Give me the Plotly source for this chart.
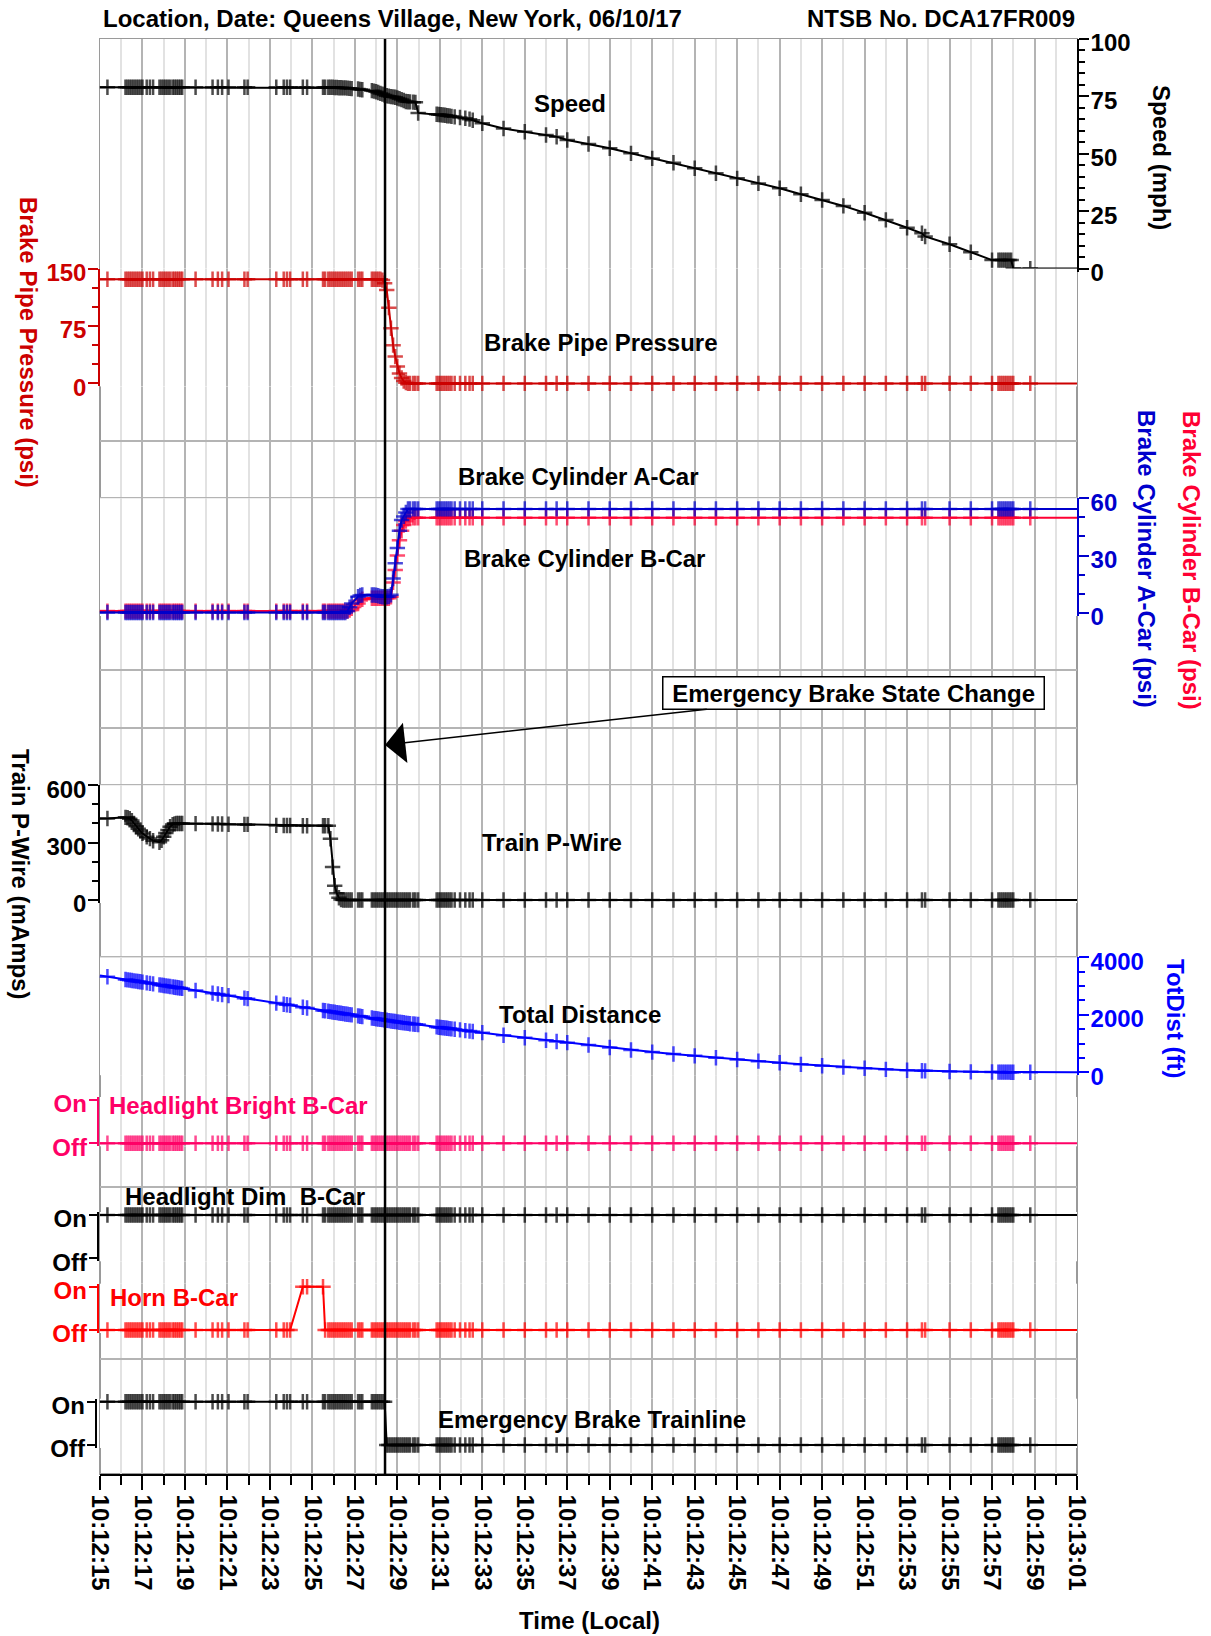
import pandas as pd
import plotly.graph_objects as go

# ---------------- data ----------------
# seconds after 10:12:00 local; first / last entries are the plot edges (line only, no marker)
TIME_S = [
    15.0, 15.35,
    16.2, 16.3, 16.4, 16.5, 16.6, 16.7, 16.8, 16.9, 17.0,
    17.2, 17.35, 17.5,
    17.8, 17.9, 18.0, 18.1, 18.2, 18.3,
    18.42, 18.51, 18.6, 18.69, 18.78, 18.87,
    19.5, 20.3, 20.55, 20.75, 21.05,
    21.8, 21.95, 23.3, 23.65, 23.8, 23.95,
    24.55, 24.75, 25.5, 25.6,
    25.75, 25.85, 25.95, 26.05, 26.15, 26.25, 26.35, 26.45, 26.55,
    26.65, 26.75, 26.85, 27.15, 27.25, 27.35,
    27.8, 27.9, 28.0, 28.1, 28.2, 28.3, 28.4, 28.5, 28.6, 28.7,
    28.8, 28.9, 29.0, 29.1, 29.2, 29.3, 29.4, 29.5, 29.6,
    29.75, 29.85, 29.98,
    30.85, 30.95, 31.05, 31.15, 31.25, 31.35, 31.45, 31.55,
    31.7, 31.95, 32.2, 32.4, 32.55, 33.0,
    34.0, 35.0, 36.0, 36.5, 37.0, 38.0, 39.0, 40.0, 41.0, 42.0,
    43.0, 44.0, 45.0, 46.0, 47.0, 48.0, 49.0, 50.0, 51.0, 52.0, 53.0,
    53.7, 53.85, 55.0, 56.0, 57.0,
    57.3, 57.4, 57.5, 57.6, 57.7, 57.8, 57.9,
    58.0, 58.8, 61.0,
]

SPEED_MPH = [
    79.0, 79.0,
    79.0, 79.0, 79.0, 79.0, 79.0, 79.0, 79.0, 79.0, 79.0,
    79.0, 79.0, 79.0,
    79.0, 79.0, 79.0, 79.0, 79.0, 79.0,
    79.0, 79.0, 79.0, 79.0, 79.0, 79.0,
    79.0, 79.0, 79.0, 79.0, 79.0,
    79.0, 79.0, 79.0, 79.0, 79.0, 79.0,
    79.0, 79.0, 79.0, 79.0,
    79.0, 79.0, 79.0, 78.9, 78.9, 78.8, 78.8, 78.7, 78.7,
    78.6, 78.5, 78.4, 78.2, 78.0, 77.9,
    77.5, 77.3, 77.0, 76.7, 76.3, 76.0, 75.6, 75.3, 75.1, 74.9,
    74.8, 74.6, 74.3, 74.0, 73.6, 73.2, 72.8, 72.7, 72.6,
    72.5, 72.4, 67.8,
    67.2, 67.1, 67.0, 66.9, 66.8, 66.6, 66.5, 66.3,
    66.1, 65.8, 65.5, 65.1, 64.6, 63.3,
    61.0, 59.6, 58.2, 57.4, 56.0, 54.3, 52.4, 50.2, 48.0, 46.1,
    43.7, 41.5, 39.3, 37.1, 35.0, 32.4, 29.9, 27.3, 24.3, 21.2, 17.8,
    15.4, 14.0, 10.6, 7.1, 3.7,
    3.7, 3.7, 3.7, 3.7, 3.7, 3.7, 3.7,
    0.0, 0.0, 0.0,
]

BRAKE_PIPE_PSI = [
    136, 136,
    136, 136, 136, 136, 136, 136, 136, 136, 136,
    136, 136, 136,
    136, 136, 136, 136, 136, 136,
    136, 136, 136, 136, 136, 136,
    136, 136, 136, 136, 136,
    136, 136, 136, 136, 136, 136,
    136, 136, 136, 136,
    136, 136, 136, 136, 136, 136, 136, 136, 136,
    136, 136, 136, 136, 136, 136,
    136, 136, 136, 136, 136, 135, 131, 122, 99, 72,
    50, 35, 22, 13, 7, 3, 1, 0, 0,
    0, 0, 0,
    0, 0, 0, 0, 0, 0, 0, 0,
    0, 0, 0, 0, 0, 0,
    0, 0, 0, 0, 0, 0, 0, 0, 0, 0,
    0, 0, 0, 0, 0, 0, 0, 0, 0, 0, 0,
    0, 0, 0, 0, 0,
    0, 0, 0, 0, 0, 0, 0,
    0, 0, 0,
]

BRAKE_CYL_A_PSI = [
    0.3, 0.3,
    0.3, 0.3, 0.3, 0.3, 0.3, 0.3, 0.3, 0.3, 0.3,
    0.3, 0.3, 0.3,
    0.3, 0.3, 0.3, 0.3, 0.3, 0.3,
    0.3, 0.3, 0.3, 0.3, 0.3, 0.3,
    0.3, 0.3, 0.3, 0.3, 0.3,
    0.3, 0.3, 0.3, 0.3, 0.3, 0.3,
    0.3, 0.3, 0.3, 0.3,
    0.3, 0.3, 0.3, 0.3, 0.3, 0.3, 0.3, 0.3, 0.3,
    1.0, 3.0, 5.0, 8.5, 9.2, 9.4,
    9.4, 9.4, 9.3, 9.0, 8.7, 8.5, 8.5, 8.5, 8.6, 9.5,
    18.0, 26.0, 34.0, 43.0, 48.6, 50.5, 52.5, 54.4, 54.4,
    54.4, 54.4, 54.4,
    54.4, 54.4, 54.4, 54.4, 54.4, 54.4, 54.4, 54.4,
    54.4, 54.4, 54.4, 54.4, 54.4, 54.4,
    54.4, 54.4, 54.4, 54.4, 54.4, 54.4, 54.4, 54.4, 54.4, 54.4,
    54.4, 54.4, 54.4, 54.4, 54.4, 54.4, 54.4, 54.4, 54.4, 54.4, 54.4,
    54.4, 54.4, 54.4, 54.4, 54.4,
    54.4, 54.4, 54.4, 54.4, 54.4, 54.4, 54.4,
    54.4, 54.4, 54.4,
]

BRAKE_CYL_B_PSI = [
    1.0, 1.0,
    1.0, 1.0, 1.0, 1.0, 1.0, 1.0, 1.0, 1.0, 1.0,
    1.0, 1.0, 1.0,
    1.0, 1.0, 1.0, 1.0, 1.0, 1.0,
    1.0, 1.0, 1.0, 1.0, 1.0, 1.0,
    1.0, 1.0, 1.0, 1.0, 1.0,
    1.0, 1.0, 1.0, 1.0, 1.0, 1.0,
    1.0, 1.0, 1.0, 1.0,
    1.0, 1.0, 1.0, 1.0, 1.0, 1.0, 1.0, 1.0, 1.0,
    1.0, 1.5, 2.5, 5.0, 6.5, 7.2,
    7.7, 7.7, 7.7, 7.7, 7.7, 7.7, 7.7, 7.7, 7.7, 8.5,
    16.0, 22.5, 30.0, 38.0, 43.0, 46.0, 48.0, 49.3, 49.8,
    49.8, 49.8, 49.8,
    49.8, 49.8, 49.8, 49.8, 49.8, 49.8, 49.8, 49.8,
    49.8, 49.8, 49.8, 49.8, 49.8, 49.8,
    49.8, 49.8, 49.8, 49.8, 49.8, 49.8, 49.8, 49.8, 49.8, 49.8,
    49.8, 49.8, 49.8, 49.8, 49.8, 49.8, 49.8, 49.8, 49.8, 49.8, 49.8,
    49.8, 49.8, 49.8, 49.8, 49.8,
    49.8, 49.8, 49.8, 49.8, 49.8, 49.8, 49.8,
    49.8, 49.8, 49.8,
]

P_WIRE_MA = [
    426, 426,
    432, 430, 425, 415, 400, 385, 372, 360, 348,
    330, 321, 310,
    302, 312, 330, 350, 366, 383,
    394, 398, 400, 400, 400, 400,
    399, 398, 397, 397, 396,
    395, 395, 390, 389, 389, 389,
    388, 388, 388, 388,
    388, 320, 172, 75, 35, 12, 2, 0, 0,
    0, 0, 0, 0, 0, 0,
    0, 0, 0, 0, 0, 0, 0, 0, 0, 0,
    0, 0, 0, 0, 0, 0, 0, 0, 0,
    0, 0, 0,
    0, 0, 0, 0, 0, 0, 0, 0,
    0, 0, 0, 0, 0, 0,
    0, 0, 0, 0, 0, 0, 0, 0, 0, 0,
    0, 0, 0, 0, 0, 0, 0, 0, 0, 0, 0,
    0, 0, 0, 0, 0,
    0, 0, 0, 0, 0, 0, 0,
    0, 0, 0,
]

TOT_DIST_FT = [
    3369, 3328,
    3230, 3218, 3207, 3195, 3183, 3172, 3160, 3149, 3137,
    3114, 3096, 3079,
    3044, 3033, 3021, 3009, 2998, 2986,
    2972, 2962, 2951, 2941, 2930, 2920,
    2847, 2754, 2725, 2702, 2667,
    2581, 2563, 2407, 2366, 2349, 2331,
    2262, 2239, 2152, 2140,
    2123, 2111, 2100, 2088, 2076, 2065, 2053, 2042, 2030,
    2019, 2007, 1996, 1961, 1950, 1938,
    1887, 1876, 1864, 1853, 1842, 1831, 1819, 1808, 1797, 1786,
    1775, 1764, 1753, 1743, 1732, 1721, 1710, 1700, 1689,
    1680, 1670, 1660,
    1578, 1568, 1558, 1549, 1539, 1529, 1520, 1510,
    1497, 1473, 1450, 1432, 1418, 1378,
    1290, 1202, 1115, 1072, 1030, 948, 860, 775, 700, 635,
    570, 505, 445, 385, 330, 274, 225, 177, 139, 100, 67,
    50, 47, 26, 13, 5,
    3, 3, 2, 2, 1, 1, 0,
    0, 0, 0,
]

# discrete signals: 1 = On, 0 = Off
HEADLIGHT_BRIGHT_B = [
    0, 0,
    0, 0, 0, 0, 0, 0, 0, 0, 0,
    0, 0, 0,
    0, 0, 0, 0, 0, 0,
    0, 0, 0, 0, 0, 0,
    0, 0, 0, 0, 0,
    0, 0, 0, 0, 0, 0,
    0, 0, 0, 0,
    0, 0, 0, 0, 0, 0, 0, 0, 0,
    0, 0, 0, 0, 0, 0,
    0, 0, 0, 0, 0, 0, 0, 0, 0, 0,
    0, 0, 0, 0, 0, 0, 0, 0, 0,
    0, 0, 0,
    0, 0, 0, 0, 0, 0, 0, 0,
    0, 0, 0, 0, 0, 0,
    0, 0, 0, 0, 0, 0, 0, 0, 0, 0,
    0, 0, 0, 0, 0, 0, 0, 0, 0, 0, 0,
    0, 0, 0, 0, 0,
    0, 0, 0, 0, 0, 0, 0,
    0, 0, 0,
]

HEADLIGHT_DIM_B = [
    1, 1,
    1, 1, 1, 1, 1, 1, 1, 1, 1,
    1, 1, 1,
    1, 1, 1, 1, 1, 1,
    1, 1, 1, 1, 1, 1,
    1, 1, 1, 1, 1,
    1, 1, 1, 1, 1, 1,
    1, 1, 1, 1,
    1, 1, 1, 1, 1, 1, 1, 1, 1,
    1, 1, 1, 1, 1, 1,
    1, 1, 1, 1, 1, 1, 1, 1, 1, 1,
    1, 1, 1, 1, 1, 1, 1, 1, 1,
    1, 1, 1,
    1, 1, 1, 1, 1, 1, 1, 1,
    1, 1, 1, 1, 1, 1,
    1, 1, 1, 1, 1, 1, 1, 1, 1, 1,
    1, 1, 1, 1, 1, 1, 1, 1, 1, 1, 1,
    1, 1, 1, 1, 1,
    1, 1, 1, 1, 1, 1, 1,
    1, 1, 1,
]

HORN_B = [
    0, 0,
    0, 0, 0, 0, 0, 0, 0, 0, 0,
    0, 0, 0,
    0, 0, 0, 0, 0, 0,
    0, 0, 0, 0, 0, 0,
    0, 0, 0, 0, 0,
    0, 0, 0, 0, 0, 0,
    1, 1, 1, 0,
    0, 0, 0, 0, 0, 0, 0, 0, 0,
    0, 0, 0, 0, 0, 0,
    0, 0, 0, 0, 0, 0, 0, 0, 0, 0,
    0, 0, 0, 0, 0, 0, 0, 0, 0,
    0, 0, 0,
    0, 0, 0, 0, 0, 0, 0, 0,
    0, 0, 0, 0, 0, 0,
    0, 0, 0, 0, 0, 0, 0, 0, 0, 0,
    0, 0, 0, 0, 0, 0, 0, 0, 0, 0, 0,
    0, 0, 0, 0, 0,
    0, 0, 0, 0, 0, 0, 0,
    0, 0, 0,
]

EMERGENCY_TRAINLINE = [
    1, 1,
    1, 1, 1, 1, 1, 1, 1, 1, 1,
    1, 1, 1,
    1, 1, 1, 1, 1, 1,
    1, 1, 1, 1, 1, 1,
    1, 1, 1, 1, 1,
    1, 1, 1, 1, 1, 1,
    1, 1, 1, 1,
    1, 1, 1, 1, 1, 1, 1, 1, 1,
    1, 1, 1, 1, 1, 1,
    1, 1, 1, 1, 1, 1, 1, 0, 0, 0,
    0, 0, 0, 0, 0, 0, 0, 0, 0,
    0, 0, 0,
    0, 0, 0, 0, 0, 0, 0, 0,
    0, 0, 0, 0, 0, 0,
    0, 0, 0, 0, 0, 0, 0, 0, 0, 0,
    0, 0, 0, 0, 0, 0, 0, 0, 0, 0, 0,
    0, 0, 0, 0, 0,
    0, 0, 0, 0, 0, 0, 0,
    0, 0, 0,
]

EMERGENCY_T = 28.42          # emergency brake state change (s after 10:12:00)
X_START_S, X_END_S = 15, 61  # 10:12:15 .. 10:13:01
BASE_TIME = "2017-06-10 10:12:00"

for s in (SPEED_MPH, BRAKE_PIPE_PSI, BRAKE_CYL_A_PSI, BRAKE_CYL_B_PSI, P_WIRE_MA,
          TOT_DIST_FT, HEADLIGHT_BRIGHT_B, HEADLIGHT_DIM_B, HORN_B, EMERGENCY_TRAINLINE):
    assert len(s) == len(TIME_S), len(s)

# ---------------- geometry helpers ----------------
W, H = 1211, 1636
ML = 88                          # left margin of the paper area
L, R, TOP, BOT = 100, 1077, 39, 1474   # plot-area edges in pixels
PW = R - ML
PH = BOT - TOP
DIV = PH / 25.0


def py(y):
    return (BOT - y) / PH


def px(x):
    return (x - ML) / PW


FONT = "Liberation Sans, Arial, sans-serif"


def fnt(color="black", size=24):
    return dict(family=FONT, size=size, color=color, weight="bold")


base = pd.Timestamp(BASE_TIME)
times = base + pd.to_timedelta(TIME_S, unit="s")
x_start = base + pd.Timedelta(seconds=X_START_S)
x_end = base + pd.Timedelta(seconds=X_END_S)
t_emerg = base + pd.Timedelta(seconds=EMERGENCY_T)

C_BP = "#cc0000"
C_BCB = "#ff0033"
C_BCA = "#0000cc"
C_DIST = "#0000ff"
C_HB = "#ff0066"
C_HORN = "#ff0000"


def value_axis(top_px, bot_px, vmin, vmax, side, color, dtick, minor,
               pad_bot=3, pad_top=0, digital=False, xpos=None):
    ppu = (bot_px - top_px) / (vmax - vmin)
    ax = dict(
        domain=[py(bot_px + pad_bot), min(1.0, py(top_px - pad_top))],
        range=[vmin - pad_bot / ppu, vmax + pad_top / ppu],
        anchor="x", side=side, showgrid=False, zeroline=False,
        showline=True, linecolor=color, linewidth=1.5,
        ticks="outside", ticklen=10 if not digital else 8, tickwidth=1.5, tickcolor=color,
        tickfont=fnt(color), fixedrange=True, ticklabelshift=4,
        ticklabelstandoff=-3,
    )
    if xpos is not None:
        ax.update(anchor="free", position=px(xpos))
    if digital:
        ax.update(tickmode="array", tickvals=[0, 1], ticktext=["Off", "On"])
    else:
        ax.update(tick0=0, dtick=dtick,
                  minor=dict(dtick=minor, tick0=0, ticks="outside", ticklen=6,
                             tickwidth=1.5, tickcolor=color, showgrid=False))
    return ax


fig = go.Figure()

# empty trace to hold the background grid subplot
fig.add_trace(go.Scatter(x=[], y=[], xaxis="x", yaxis="y", showlegend=False))


def series(values, axis, color, name):
    n = len(values)
    sizes = [0] + [11] * (n - 2) + [0]
    return go.Scatter(
        x=times, y=values, yaxis=axis, mode="lines+markers", name=name,
        line=dict(color=color, width=2),
        marker=dict(symbol="cross-thin", size=sizes, color=color,
                    line=dict(color=color, width=2.5)),
        cliponaxis=False, showlegend=False, hoverinfo="skip")


fig.add_trace(series(SPEED_MPH, "y2", "black", "Speed"))
fig.add_trace(series(BRAKE_PIPE_PSI, "y3", C_BP, "Brake Pipe Pressure"))
fig.add_trace(series(BRAKE_CYL_B_PSI, "y4", C_BCB, "Brake Cylinder B-Car"))
fig.add_trace(series(BRAKE_CYL_A_PSI, "y4", C_BCA, "Brake Cylinder A-Car"))
fig.add_trace(series(P_WIRE_MA, "y5", "black", "Train P-Wire"))
fig.add_trace(series(TOT_DIST_FT, "y6", C_DIST, "Total Distance"))
fig.add_trace(series(HEADLIGHT_BRIGHT_B, "y7", C_HB, "Headlight Bright B-Car"))
fig.add_trace(series(HEADLIGHT_DIM_B, "y8", "black", "Headlight Dim B-Car"))
fig.add_trace(series(HORN_B, "y9", C_HORN, "Horn B-Car"))
fig.add_trace(series(EMERGENCY_TRAINLINE, "y10", "black", "Emergency Brake Trainline"))

GRID_MAJ = "#b4b4b4"
GRID_MIN = "#e2e2e2"

layout = dict(
    width=W, height=H, autosize=False,
    margin=dict(l=ML, r=W - R, t=TOP, b=H - BOT, pad=0),
    paper_bgcolor="white", plot_bgcolor="white",
    font=fnt(),
    showlegend=False,
    xaxis=dict(
        type="date", range=[x_start, x_end], anchor="y", domain=[px(L), 1],
        tick0=x_start, dtick=2000, tickformat="%H:%M:%S", tickangle=90,
        ticks="outside", ticklen=14, tickwidth=1.5, tickcolor="black",
        tickfont=fnt(), showline=True, linecolor="black", linewidth=1.5,
        showgrid=True, gridcolor=GRID_MAJ, gridwidth=2, zeroline=False,
        minor=dict(dtick=1000, tick0=x_start, ticks="outside", ticklen=9,
                   tickwidth=1.5, tickcolor="black", showgrid=True,
                   gridcolor=GRID_MIN, gridwidth=2),
        fixedrange=True,
    ),
    yaxis=dict(domain=[0, 1], range=[0, 25], dtick=1, tick0=0, showgrid=True,
               gridcolor=GRID_MAJ, gridwidth=2, showticklabels=False, ticks="",
               zeroline=False, showline=False, anchor="x", fixedrange=True),
    yaxis2=value_axis(TOP + 0 * DIV, TOP + 4 * DIV, 0, 100, "right", "black", 25, 5),
    yaxis3=value_axis(TOP + 4 * DIV, TOP + 6 * DIV, 0, 150, "left", C_BP, 75, 25),
    yaxis4=value_axis(TOP + 8 * DIV, TOP + 10 * DIV, 0, 60, "right", C_BCA, 30, 10),
    yaxis5=value_axis(TOP + 13 * DIV, TOP + 15 * DIV, 0, 600, "left", "black", 300, 100),
    yaxis6=value_axis(TOP + 16 * DIV, TOP + 18 * DIV, 0, 4000, "right", C_DIST, 2000, 500),
    yaxis7=value_axis(1100, 1143.3, 0, 1, "left", C_HB, None, None, 3, 3, True, 97.5),
    yaxis8=value_axis(1215, 1258.3, 0, 1, "left", "black", None, None, 3, 3, True, 97.5),
    yaxis9=value_axis(1286.7, 1330, 0, 1, "left", C_HORN, None, None, 3, 3, True, 97.5),
    yaxis10=value_axis(1401.7, 1445, 0, 1, "left", "black", None, None, 3, 3, True, 95.5),
)
fig.update_layout(**layout)

# plot frame and emergency-event line
fig.add_shape(type="rect", xref="paper", yref="paper", x0=px(L), x1=1, y0=0, y1=1,
              line=dict(color="#9a9a9a", width=2), layer="below")
fig.add_shape(type="line", xref="x", yref="paper", x0=t_emerg, x1=t_emerg, y0=0, y1=1,
              line=dict(color="black", width=2.5), layer="above")


def label(text, x, y, color="black", xanchor="center", angle=0):
    fig.add_annotation(text=text, xref="paper", yref="paper", x=px(x), y=py(y),
                       xanchor=xanchor, yanchor="middle", showarrow=False,
                       font=fnt(color), textangle=angle)


label("Location, Date: Queens Village, New York, 06/10/17", 101, 19, xanchor="left")
label("NTSB No. DCA17FR009", 1077, 19, xanchor="right")
label("Speed", 570, 103)
label("Brake Pipe Pressure", 600, 342)
label("Brake Cylinder A-Car", 578, 476)
label("Brake Cylinder B-Car", 584, 558)
label("Train P-Wire", 552, 843)
label("Total Distance", 580, 1014)
label("Headlight Bright B-Car", 107, 1105, C_HB, "left")
label("Headlight Dim\u00a0 B-Car", 123, 1196, "black", "left")
label("Horn B-Car", 108, 1297, C_HORN, "left")
label("Emergency Brake Trainline", 592, 1419)
label("Time (Local)", 589, 1620)

# axis titles
label("Speed (mph)", 1161, 157, "black", angle=90)
label("Brake Pipe Pressure (psi)", 29, 342, C_BP, angle=90)
label("Brake Cylinder A-Car (psi)", 1147, 559, C_BCA, angle=90)
label("Brake Cylinder B-Car (psi)", 1192, 560, C_BCB, angle=90)
label("Train P-Wire (mAmps)", 21, 874, "black", angle=90)
label("TotDist (ft)", 1175, 1019, C_DIST, angle=90)

# event callout with arrow to the emergency line
fig.add_annotation(
    text="\u00a0Emergency Brake State Change\u00a0", xref="x", yref="paper",
    x=t_emerg, y=py(745), ax=468, ay=-52, showarrow=True,
    arrowhead=1, arrowsize=4.5, arrowwidth=1.5, arrowcolor="black", standoff=0,
    bordercolor="black", borderwidth=1.5, borderpad=2, bgcolor="white",
    font=fnt(),
)

fig.write_html("out.html")
